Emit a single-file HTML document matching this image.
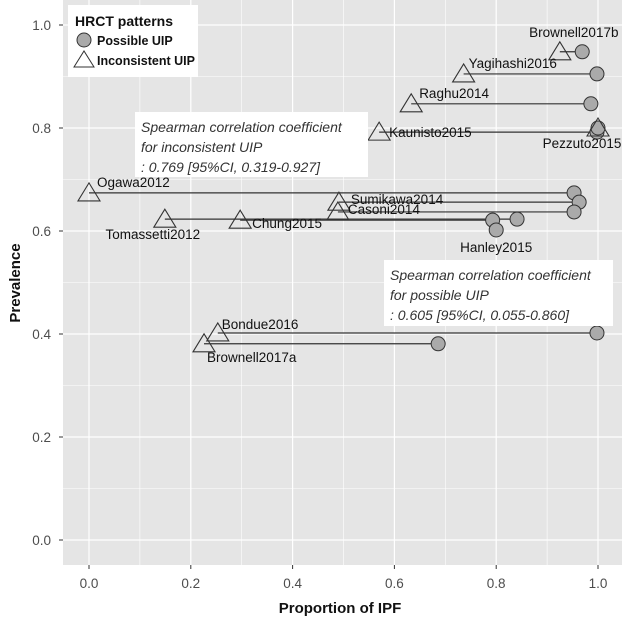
<!DOCTYPE html>
<html><head><meta charset="utf-8"><style>
body{margin:0;background:#fff;width:625px;height:620px;overflow:hidden}
svg{display:block;font-family:"Liberation Sans",sans-serif}
</style></head><body>
<svg id="chart" width="625" height="620">
<rect x="63" y="0" width="559" height="565" fill="#e5e5e5"/>
<g id="grid"></g><g id="axes"></g><g id="marks"></g>
<g>
<rect x="68" y="5" width="130" height="72" fill="#fff"/>
<text x="75" y="26" font-size="14" font-weight="bold" fill="#111">HRCT patterns</text>
<circle cx="84" cy="40" r="7" fill="#aaa" stroke="#333"/>
<text x="97" y="45" font-size="12.5" font-weight="bold" fill="#111">Possible UIP</text>
<polygon points="74,67 84,51 94,67" fill="none" stroke="#333"/>
<text x="97" y="65" font-size="12.5" font-weight="bold" fill="#111">Inconsistent UIP</text>
</g>
<g>
<rect x="135" y="112" width="233" height="65" fill="#fff"/>
<text font-size="14" font-style="italic" fill="#333"><tspan x="141" y="132">Spearman correlation coefficient</tspan><tspan x="141" y="152">for inconsistent UIP</tspan><tspan x="141" y="172">: 0.769 [95%CI, 0.319-0.927]</tspan></text>
</g>
<g>
<rect x="384" y="260" width="229" height="66" fill="#fff"/>
<text font-size="14" font-style="italic" fill="#333"><tspan x="390" y="280">Spearman correlation coefficient</tspan><tspan x="390" y="300">for possible UIP</tspan><tspan x="390" y="320">: 0.605 [95%CI, 0.055-0.860]</tspan></text>
</g>
<text x="340" y="613" text-anchor="middle" font-size="15" font-weight="bold" fill="#111">Proportion of IPF</text>
<text transform="translate(20,283) rotate(-90)" text-anchor="middle" font-size="15" font-weight="bold" fill="#111">Prevalence</text>
</svg>
<script>
const studies=["Brownell2017b","Yagihashi2016","Raghu2014","Kaunisto2015","Pezzuto2015","Ogawa2012","Sumikawa2014","Casoni2014","Tomassetti2012","Chung2015","Hanley2015","Bondue2016","Brownell2017a"];
const prevalence=[0.948,0.905,0.847,0.792,0.800,0.674,0.656,0.637,0.623,0.621,0.602,0.402,0.381];
const inconsistentX=[0.925,0.736,0.633,0.570,1.0,0.0,0.491,0.489,0.149,0.297,null,0.253,0.226];
const possibleX=[0.969,0.998,0.986,0.998,1.0,0.953,0.963,0.953,0.841,0.793,0.800,0.998,0.686];
const xTicks=[0,0.2,0.4,0.6,0.8,1.0];
const yTicks=[0,0.2,0.4,0.6,0.8,1.0];
const xTickLabels=["0.0","0.2","0.4","0.6","0.8","1.0"];
const yTickLabels=["0.0","0.2","0.4","0.6","0.8","1.0"];
// label placement: [dx, dy, anchor]
const labelPos=[[14,-15,"middle"],[5,-6,"start"],[8,-6,"start"],[10,5,"start"],[-16,20,"middle"],[8,-6,"start"],[12,2,"start"],[10,2,"start"],[-12,20,"middle"],[12,8,"start"],[0,0,"middle"],[4,-4,"start"],[3,18,"start"]];
const X=v=>89+509*v, Y=v=>540-515*v;
const NS="http://www.w3.org/2000/svg";
function mk(parent,tag,attrs){const e=document.createElementNS(NS,tag);for(const k in attrs)e.setAttribute(k,attrs[k]);document.getElementById(parent).appendChild(e);return e;}
for(let i=0;i<11;i++){const v=i/10;
 const l=mk("grid","line",{x1:X(v),x2:X(v),y1:0,y2:565,stroke:"#fff","stroke-width":i%2?0.6:1.2});
 
 
 const h=mk("grid","line",{x1:63,x2:622,y1:Y(v),y2:Y(v),stroke:"#fff","stroke-width":i%2?0.6:1.2});
 
 }
xTicks.forEach((v,i)=>{
 mk("axes","line",{x1:X(v),x2:X(v),y1:565,y2:569,stroke:"#333"});
 const t=mk("axes","text",{x:X(v),y:588,"text-anchor":"middle","font-size":13.5,fill:"#4d4d4d"});t.textContent=xTickLabels[i];
 
 });
yTicks.forEach((v,i)=>{
 mk("axes","line",{x1:59,x2:63,y1:Y(v),y2:Y(v),stroke:"#333"});
 const t=mk("axes","text",{x:51,y:Y(v)+5,"text-anchor":"end","font-size":13.5,fill:"#4d4d4d"});t.textContent=yTickLabels[i];
 
 });
studies.forEach((s,i)=>{
 const y=Y(prevalence[i]);
 if(inconsistentX[i]!==null){
  const seg=mk("marks","line",{x1:X(inconsistentX[i]),x2:X(possibleX[i]),y1:y,y2:y,stroke:"#333","stroke-width":1.2});
  
  }
 const c=mk("marks","circle",{cx:X(possibleX[i]),cy:y,r:7,fill:"#aaa",stroke:"#333","stroke-width":1});
 
 
 if(inconsistentX[i]!==null){const x=X(inconsistentX[i]);
  const p=mk("marks","polygon",{points:`${x-11},${y+8} ${x},${y-10} ${x+11},${y+8}`,fill:"none",stroke:"#333","stroke-width":1.1});
  
  }
});
studies.forEach((s,i)=>{
 const lp=labelPos[i];let bx=inconsistentX[i]!==null?X(inconsistentX[i]):X(possibleX[i]);
 if(s==="Pezzuto2015")bx=X(possibleX[i]);
 let y=Y(prevalence[i]);
 if(s==="Hanley2015"){bx=X(possibleX[i]);lp[1]=22;}
 const t=mk("marks","text",{x:bx+lp[0],y:y+lp[1],"text-anchor":lp[2],"font-size":13.5,fill:"#111"});
 t.textContent=s;
 
 
});
</script>
</body></html>
